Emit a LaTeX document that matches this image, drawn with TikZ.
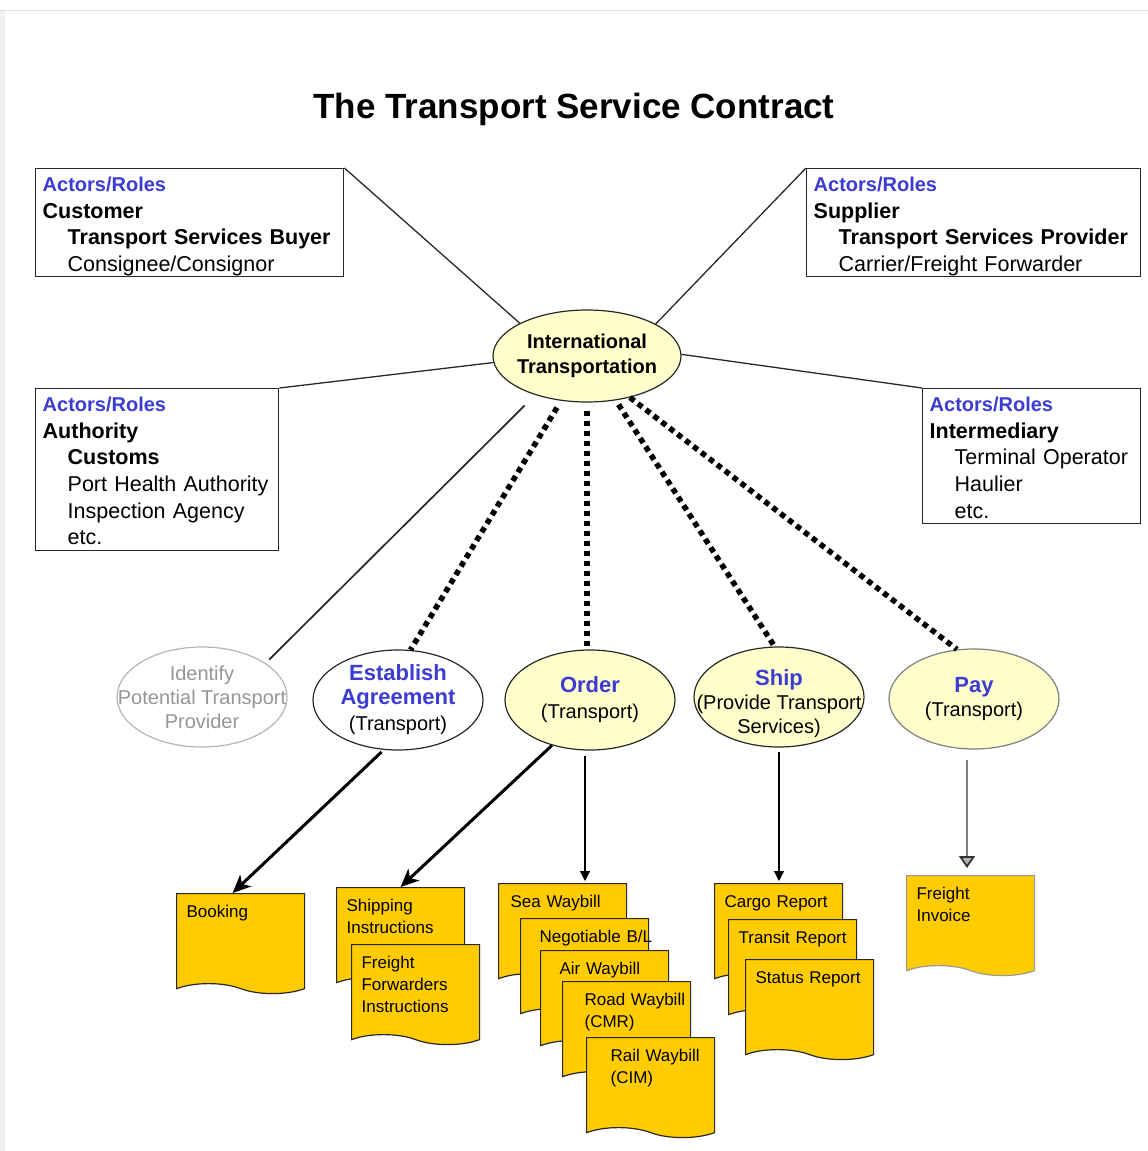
\documentclass[tikz,border=0pt]{standalone}
\usepackage{fontspec}
\setmainfont{Liberation Sans}
\usetikzlibrary{positioning,arrows.meta,shapes.geometric,shapes.symbols}

\definecolor{roleblue}{RGB}{60,60,210}
\definecolor{paleyellow}{RGB}{255,255,204}
\definecolor{docyellow}{RGB}{255,204,0}
\definecolor{framegray}{RGB}{40,40,40}
\definecolor{idgray}{RGB}{150,150,150}

\newcommand{\fs}[2]{\fontsize{#1}{#2}\selectfont}
\newcommand{\roles}{{\bfseries\color{roleblue}\fs{20}{26.6}Actors/Roles}}
\newcommand{\tasktitle}[1]{{\bfseries\color{roleblue}\fs{22}{26}#1}}

\begin{document}
\begin{tikzpicture}[x=1pt, y=-1pt,
  actor/.style={rectangle, draw=framegray, line width=1.4pt, anchor=north west,
    align=left, inner xsep=7pt, inner ysep=7pt, text height=16pt, font=\fs{21.5}{26.6}},
  task/.style={ellipse, draw=framegray, line width=1.2pt, minimum width=170pt,
    minimum height=100pt, inner xsep=-30pt, inner ysep=-15pt, align=center, font=\fs{20}{24}},
  doc/.style={tape, tape bend top=none, tape bend bottom=out and in,
    tape bend height=10pt, draw=framegray, fill=docyellow, line width=1.2pt,
    anchor=north west, align=left, inner xsep=10pt, inner ysep=10pt,
    text width=108pt, text height=14pt, text depth=56pt, font=\fs{17}{22}},
  link/.style={line width=1.3pt, draw=framegray},
  dots/.style={draw=black, line width=5.5pt, dash pattern=on 5.5pt off 4.5pt},
  bigarrow/.style={draw=black, line width=3pt, -{Stealth[length=18pt, width=16pt, inset=5pt]}},
  thinarrow/.style={draw=black, line width=1.2pt, -{Triangle[length=10pt, width=10pt]}},
  grayarrow/.style={line width=1.8pt, draw=gray, -{Triangle[length=12pt, width=16pt, fill=gray!60, color=gray!40!black]}}]
\useasboundingbox (0,0) rectangle (1148,1151);
\fill[gray!12] (0,10) rectangle (5,1151);
\draw[gray!25, line width=1pt] (0,10) -- (1148,10);

%% Nodes definition
\node[font=\bfseries\fs{35}{40}, anchor=base] (title) at (574,118) {The Transport Service Contract};

\node[actor, text width=294pt, text depth=78pt] (customer) at (35,168)
  {\roles\\ \textbf{Customer}\\ \hspace*{25pt}\textbf{Transport Services Buyer}\\ \hspace*{25pt}Consignee/Consignor};
\node[actor, text width=320pt, text depth=78pt] (supplier) at (806,168)
  {\roles\\ \textbf{Supplier}\\ \hspace*{25pt}\textbf{Transport Services Provider}\\ \hspace*{25pt}Carrier/Freight Forwarder};
\node[actor, text width=229pt, text depth=132pt] (authority) at (35,388)
  {\roles\\ \textbf{Authority}\\ \hspace*{25pt}\textbf{Customs}\\ \hspace*{25pt}\mbox{Port Health Authority}\\ \hspace*{25pt}Inspection Agency\\ \hspace*{25pt}etc.};
\node[actor, text width=204pt, text depth=105pt] (intermediary) at (922,388)
  {\roles\\ \textbf{Intermediary}\\ \hspace*{25pt}Terminal Operator\\ \hspace*{25pt}Haulier\\ \hspace*{25pt}etc.};

\node[task, fill=paleyellow, minimum width=188pt, minimum height=92pt, font=\bfseries\fs{20}{25}] (intl) at (587,356)
  {International\\Transportation};

\node[task, draw=idgray!70, text=idgray] (identify) at (202,697) {Identify\\Potential Transport\\Provider};
\node[task, fill=white] (establish) at (398,700) {\tasktitle{Establish}\\\tasktitle{Agreement}\\[2pt](Transport)};
\node[task, fill=paleyellow] (order) at (590,700) {\tasktitle{Order}\\[2pt](Transport)};
\node[task, fill=paleyellow] (ship) at (779,697) {\tasktitle{\rule{0pt}{30pt}Ship}\\(Provide Transport\\Services)};
\node[task, fill=paleyellow, draw=gray] (pay) at (974,699) {\tasktitle{Pay}\\(Transport)};

\node[doc] (booking) at (176,893) {Booking};
\node[doc] (shipinstr) at (336,887) {Shipping\\Instructions};
\node[doc] (ffinstr) at (351,944) {Freight\\Forwarders\\Instructions};
\node[doc, inner xsep=12pt, text width=104pt] (seawb) at (498,883) {\mbox{Sea Waybill}};
\node[doc, inner xsep=19pt, text width=90pt] (negbl) at (520,918) {\mbox{Negotiable B/L}};
\node[doc, inner xsep=19pt, text width=90pt] (airwb) at (540,950) {\mbox{Air Waybill}};
\node[doc, inner xsep=22pt, text width=84pt] (roadwb) at (562,981) {\mbox{Road Waybill}\\(CMR)};
\node[doc, inner xsep=24pt, text width=80pt] (railwb) at (586,1037) {\mbox{Rail Waybill}\\(CIM)};
\node[doc] (cargo) at (714,883) {\mbox{Cargo Report}};
\node[doc] (transit) at (728,919) {\mbox{Transit Report}};
\node[doc] (status) at (745,959) {\mbox{Status Report}};
\node[doc, draw=gray!80] (invoice) at (906,875) {Freight\\Invoice};

%% Edges definition
\path[link]
    (customer.north east) edge (intl.154)
    (supplier.north west) edge (intl.25)
    (authority.north east) edge (intl.184)
    (intermediary.north west) edge (intl.1)
    (intl.217) edge [line width=1.7pt, shorten <=15pt, shorten >=5pt] (identify.28)
    (intl.240) edge [dots, shorten <=8pt] (establish.76)
    (intl.south) edge [dots, shorten <=8pt] (intl.south |- order.north)
    (intl.303) edge [dots, shorten <=5pt] (ship.95)
    (intl.316) edge [dots] (pay.109)
    (establish.254) edge [bigarrow, shorten <=3pt] ([xshift=-8pt]booking.north)
    (order.230) edge [bigarrow] (shipinstr.north)
    ([xshift=-5pt]order.south) edge [thinarrow, shorten <=5pt, shorten >=2pt] ([xshift=-5pt]order.south |- seawb.north)
    (ship.south) edge [thinarrow, shorten <=4pt, shorten >=2pt] (ship.south |- cargo.north)
    ([xshift=-7pt]pay.south) edge [grayarrow, shorten <=10pt, shorten >=7pt] ([xshift=-7pt]pay.south |- invoice.north)
    ;
\end{tikzpicture}
\end{document}
